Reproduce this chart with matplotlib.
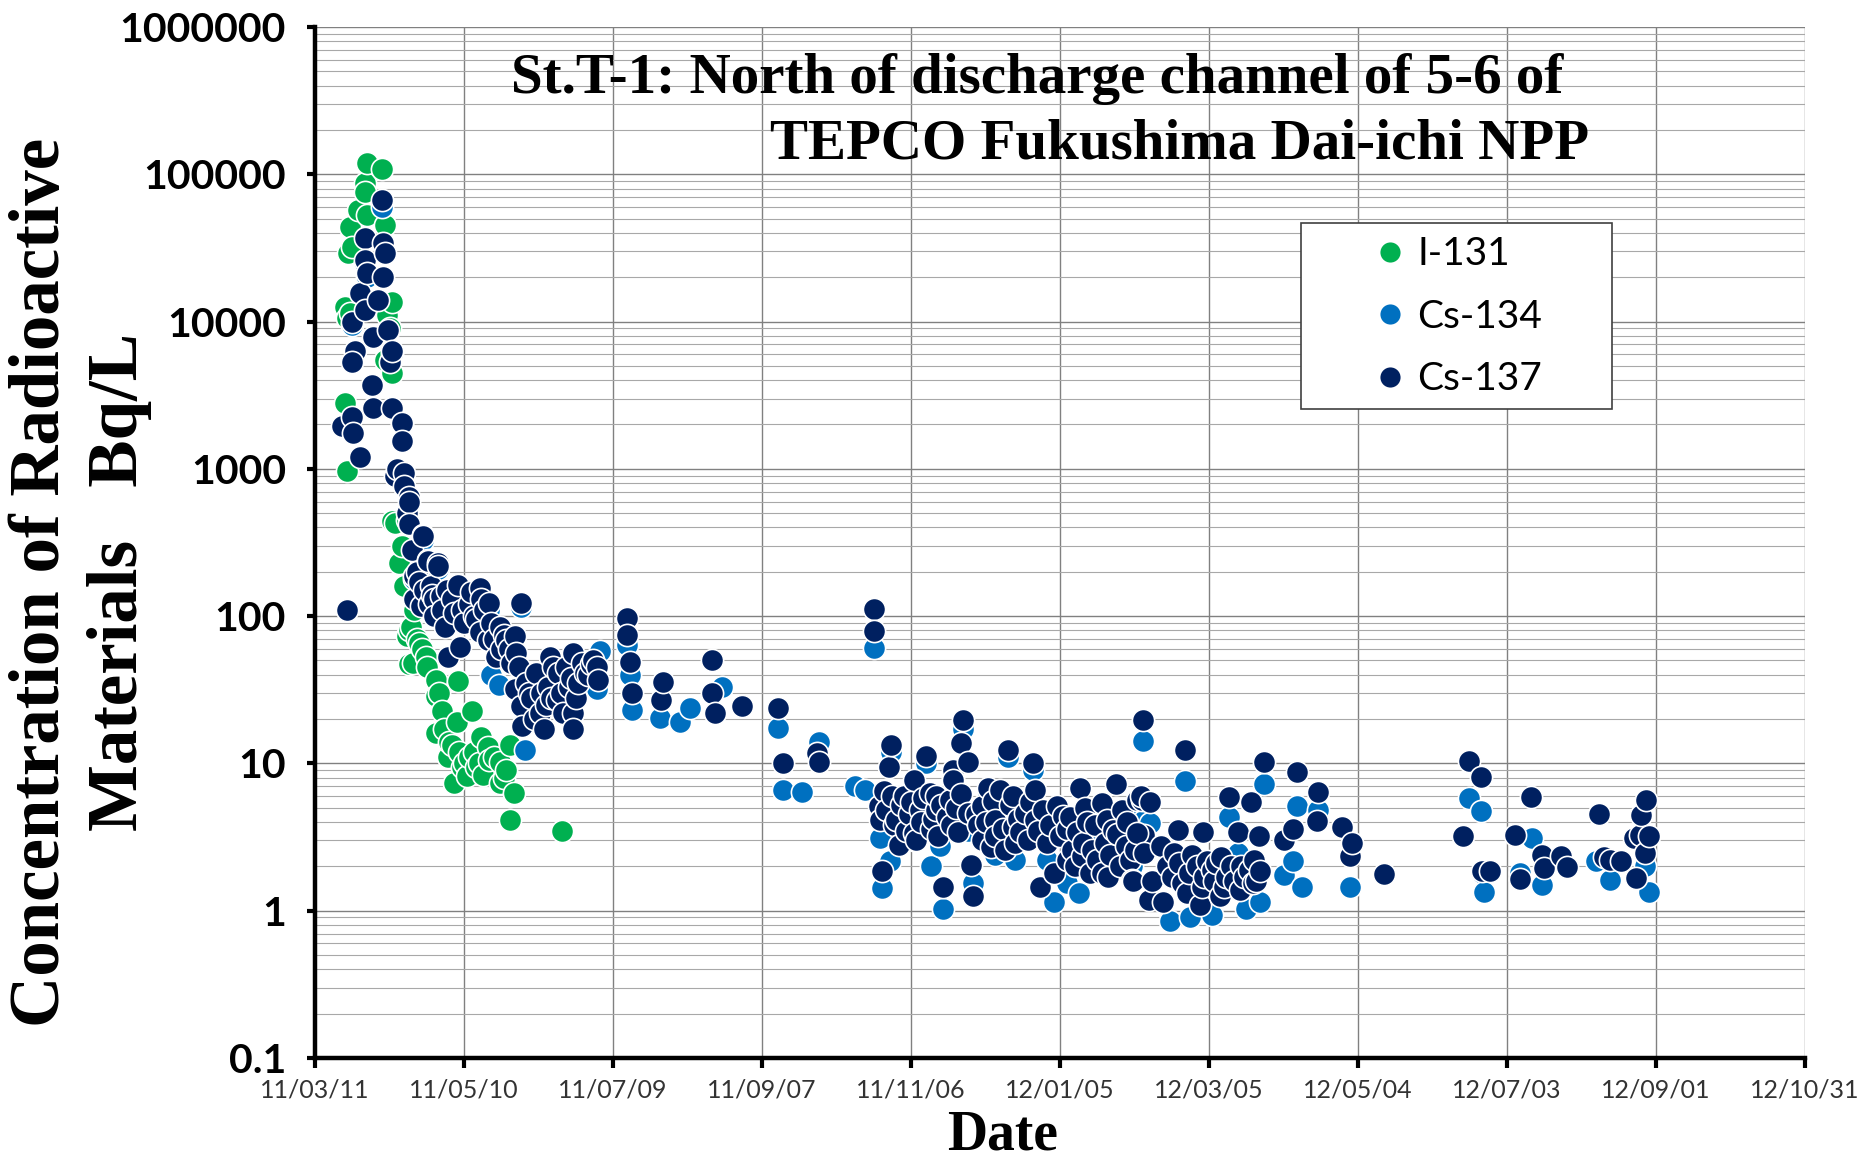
import numpy as np
import pandas as pd
import matplotlib
matplotlib.use("Agg")
import matplotlib.pyplot as plt
from matplotlib.ticker import FixedLocator, LogLocator, NullFormatter
from matplotlib.patches import Rectangle

# sampling day = days after 2011-03-11
START = pd.Timestamp("2011-03-11")
END = pd.Timestamp("2012-10-31")

i131_day = [12, 12, 12.7, 13, 13.4, 14, 14, 14.8, 17.4, 20, 20, 20.8, 21, 26.8, 28, 28, 29, 30,
            31, 31, 31, 32, 34, 35, 36, 37, 37, 38, 38, 38.6, 39.6, 40, 41, 42, 43, 44.7, 45,
            48.7, 48.7, 48.7, 50, 51.3, 52, 53.5, 54, 55, 56, 57, 57.7, 58, 59, 60, 61, 62,
            63.4, 64, 65, 66, 67, 67.7, 69.7, 70, 72, 74.5, 74.5, 76, 77, 78.5, 78.5, 80, 99.3]
i131_val = [12600, 2800, 960, 10500, 29000, 44000, 11500, 32000, 57000, 87000, 76000, 119000,
            53000, 108000, 45000, 5500, 11000, 9000, 13500, 4500, 440, 430, 230, 300, 160, 450,
            73, 81, 47, 85, 48, 110, 70, 66, 60, 53, 45, 37, 28.5, 16, 30, 22.6, 17, 11.1, 14,
            13.4, 7.4, 19.2, 36, 12, 9.5, 10, 8.2, 11, 22.6, 12, 9.5, 10, 15.2, 8.4, 13, 10.5,
            11, 10.3, 7.4, 8, 9, 13.4, 4.15, 6.3, 3.45]

cs134_day = [14.8, 20, 21, 27, 31, 35, 40, 43.6, 49.7, 57.7, 66.5, 70, 71, 74, 83, 84.6, 89, 104,
             113.4, 114.7, 125.5, 127, 127.6, 139, 147, 151, 163.8, 186.3, 188.4, 196, 203,
             217.6, 221.6, 225, 227.5, 228.5, 231.7, 232, 241, 246, 248, 251.7, 253, 257, 261,
             263, 265, 271, 274, 279, 281, 282, 289, 294.7, 297.5, 302.7, 307.7, 316, 317, 329,
             331, 333.3, 334, 336.3, 344.3, 350.4, 352.4, 361, 368, 371.8, 375, 380.6, 382, 390,
             394, 395.4, 397.4, 404, 416.6, 464.5, 469.6, 470, 470.8, 485.3, 490, 494, 516,
             521.5, 535.6, 537]
cs134_val = [9500, 25000, 20000, 60000, 6000, 2000, 180, 330, 210, 150, 140, 110, 40, 34, 115,
             12.4, 38, 52, 32, 58, 64, 40, 23, 20.4, 19.2, 23.7, 33, 17.4, 6.6, 6.4, 13.9, 7, 6.6,
             61, 3.1, 1.42, 2.16, 12, 3.0, 10, 2.0, 2.73, 1.03, 8, 17, 3.45, 1.54, 6, 2.4, 11,
             5.2, 2.2, 9, 2.2, 1.15, 1.55, 1.32, 3.2, 4.8, 2.0, 5.0, 14.3, 4.15, 3.93, 0.85, 7.55,
             0.91, 0.94, 4.36, 2.46, 1.02, 1.14, 7.2, 1.75, 2.19, 5.1, 1.46, 4.85, 1.46, 5.8, 4.77,
             1.8, 1.35, 1.8, 3.1, 1.5, 2.16, 1.62, 2.0, 1.35]

cs137_day = [13, 11, 14.8, 15.4, 16, 14.8, 14.8, 18, 18, 20, 20, 20, 21, 22.8, 23.5, 23.5, 25.3,
             27, 27.5, 28, 27.5, 29.5, 30, 31, 31, 32, 33, 35, 35, 36, 36, 37, 38, 38, 38, 39,
             40, 40, 41, 42, 42.7, 43.6, 43.6, 44, 45.4, 45.6, 46, 46.8, 47, 48, 48.1, 49.7,
             49.7, 50.8, 51, 52.2, 53, 53.5, 55, 56, 57.7, 58.4, 59, 60, 62, 63, 64, 65, 66.5,
             66.5, 67, 68, 69.7, 70, 71, 72, 73, 74.5, 75, 76, 77, 78, 79, 80.5, 80.5, 81, 82,
             83, 83, 83.5, 85, 86, 87, 88, 89, 90.5, 91, 92, 93, 94, 94.6, 95, 96, 97.3, 98, 99,
             100, 101, 102.4, 103, 104, 104, 104, 105, 106, 107.4, 108.7, 110, 111, 112, 113.4,
             114, 125.5, 125.5, 127, 127.6, 139.4, 140, 159.8, 160, 161, 172, 186.3, 188.4, 202,
             203, 225, 225,
             227, 227.5, 228.5, 229, 230, 231, 232, 232.5, 233, 234, 235, 236, 237, 238, 239,
             240, 241, 241, 242, 243.6, 244, 245, 246, 247.7, 248, 249, 250, 250, 251, 252, 253,
             254.4, 255.7, 256, 257, 257, 258, 259, 260, 260, 261, 262.8, 263, 264, 265, 266,
             267, 268.5, 268.5, 270, 271, 272, 273, 274, 274, 276, 277, 278, 279, 280, 281, 281,
             282, 283, 284, 286, 287, 288, 289, 290, 290, 291, 292, 293, 294.7, 296, 297.4,
             298.7, 300, 301, 302.7, 303, 304, 305, 306, 307, 308, 309, 309.4, 310, 311, 312,
             313, 314, 315, 317, 317, 318, 319, 319.5, 320, 321.4, 322.5, 323, 324, 325, 326.5,
             327, 328, 329, 330, 331, 333, 334, 335.7,
             329.5, 331, 332.5, 333.3, 334, 336.3, 337, 340.5, 341.6, 343, 345, 346, 347.6, 348,
             349, 350.4, 351, 352, 353, 355, 356.4, 357.3, 357.7, 358, 359, 361, 362, 363, 364.5,
             365, 366, 367, 368, 369, 370, 371.8, 372.4, 373, 374, 376, 376.7, 377.8, 378, 379,
             380, 380.6, 382, 390, 394, 395.4, 403.4, 404, 413.4, 416.6, 417.5, 430.5,
             462.2, 464.5, 469.6, 470, 473, 483.4, 485.3, 489.6, 494, 494.7, 501.7, 504, 517,
             519, 521.5, 526, 531, 532, 533.5, 534, 535.6, 535.8, 537]
cs137_val = [110, 1950, 2260, 1760, 6300, 5300, 10000, 15700, 1200, 37000, 26000, 12000, 21500,
             3700, 7800, 2600, 14000, 67000, 34000, 29000, 20000, 8800, 5300, 6300, 2600, 890,
             1000, 2050, 1540, 940, 760, 500, 640, 600, 420, 280, 186, 130, 200, 170, 117, 355,
             350, 150, 240, 235, 120, 160, 140, 130, 100, 230, 220, 136, 110, 85, 150, 53, 130,
             105, 163, 62, 110, 90, 120, 145, 100, 95, 155, 78, 130, 110, 69, 123, 90, 70, 53, 85,
             60, 75, 69, 60, 48, 73, 32, 56, 45, 123, 24.5, 18, 35, 30, 28, 20, 41, 22, 30, 17, 25,
             33, 53, 28, 45, 27, 41, 30, 22, 45, 33, 38, 56, 22, 17, 28, 35, 48, 41, 40, 47, 50,
             45, 37, 97, 75, 49, 30, 27, 35.5, 30, 50, 22, 24.6, 23.7, 10.1, 11.8, 10.3, 112, 79,
             5.1, 4.15, 1.85, 6.5, 4.8, 9.5, 13.4, 6, 3.8, 4.15, 2.8, 5.2, 6, 3.5, 4.5, 5.5, 3.37,
             7.7, 3.0, 4.85, 4.0, 5.8, 11.3, 6.3, 3.6, 4.2, 4.85, 6, 3.2, 5.2, 1.46, 4.36, 5.66,
             3.8, 9.05, 7.7, 5.0, 3.4, 13.7, 6.2, 19.6, 10.3, 4.6, 2.05, 1.25, 4.5, 3.8, 5.1, 3.03,
             4.0, 6.8, 2.7, 5.6, 4.15, 3.2, 6.6, 3.6, 2.6, 12.4, 5.2, 6, 3.7, 2.9, 4.2, 3.4, 4.6,
             3.0, 5.5, 10, 6.6, 4.15, 3.5, 1.46, 4.8, 2.9, 3.8, 1.8, 5.1, 3.2, 4.4, 2.2, 3.6, 4.36,
             2.6, 2.0, 3.4, 6.8, 2.34, 2.9, 5.0, 4.0, 1.8, 2.6, 3.8, 2.2, 1.8, 5.4, 2.9, 4.15, 1.7,
             2.4, 3.55, 7.3, 3.3, 2.0, 4.85, 2.73, 4.0, 2.2, 1.62, 2.6, 5.66, 5.66, 3.28, 1.19,
             1.58, 3.37, 6, 19.6, 2.46, 5.5, 1.58, 2.73, 1.14, 2.0, 1.7, 2.46, 3.55, 2.1, 1.54,
             12.4, 1.32, 1.8, 2.4, 2.0, 1.1, 1.46, 3.4, 1.7, 2.16, 1.9, 1.6, 2.1, 1.25, 2.3, 1.46,
             1.7, 5.96, 2.0, 1.6, 3.4, 1.39, 2.0, 1.7, 1.9, 5.46, 1.54, 2.2, 1.6, 3.2, 1.85, 10.3,
             3.03, 3.6, 8.8, 4.04, 6.4, 3.73, 2.34, 2.9, 1.77,
             3.23, 10.4, 8.1, 1.85, 1.85, 3.28, 1.64, 5.87, 2.4, 1.95, 2.34, 1.97, 4.5, 2.3, 2.22,
             2.16, 3.1, 1.66, 3.28, 4.47, 2.46, 5.66, 3.23]

series = [
    ("I-131", i131_day, i131_val, "#00B050"),
    ("Cs-134", cs134_day, cs134_val, "#0070C0"),
    ("Cs-137", cs137_day, cs137_val, "#002060"),
]

y_ticks = [0.1, 1, 10, 100, 1000, 10000, 100000, 1000000]
y_labels = ["0.1", "1", "10", "100", "1000", "10000", "100000", "1000000"]
x_ticks = pd.date_range(START, END, freq="60D")


def to_dates(days):
    return START + pd.to_timedelta(np.asarray(days, dtype=float), unit="D")


fig = plt.figure(figsize=(18.62, 11.62), dpi=100)
ax = fig.add_axes([0.1692, 0.0895, 0.8002, 0.8873])

for name, days, vals, col in series:
    ax.plot(to_dates(days), vals, ls="none", marker="o", ms=16, mfc=col,
            mec="white", mew=1.2, label=name, zorder=3)

ax.set_yscale("log")
ax.set_ylim(0.1, 1e6)
ax.set_xlim(START, END)

ax.yaxis.set_major_locator(FixedLocator(y_ticks))
ax.yaxis.set_minor_locator(LogLocator(base=10, subs=np.arange(2, 10)))
ax.yaxis.set_minor_formatter(NullFormatter())
ax.set_yticklabels(y_labels, fontsize=29.5, fontweight="bold", family="Lato")

ax.set_xticks(x_ticks)
ax.set_xticklabels([d.strftime("%y/%m/%d") for d in x_ticks], fontsize=18,
                   family="Lato", color="#333333")

ax.grid(True, which="major", color="#808080", lw=1.0)
ax.grid(True, which="minor", axis="y", color="#a8a8a8", lw=0.8)
ax.set_axisbelow(True)

for s in ["top", "right"]:
    ax.spines[s].set_visible(False)
for s in ["left", "bottom"]:
    ax.spines[s].set_linewidth(3.2)
    ax.spines[s].set_color("black")

ax.tick_params(axis="x", which="major", length=7, width=3, pad=8)
ax.tick_params(axis="y", which="major", length=6, width=3, pad=15)
ax.tick_params(axis="y", which="minor", length=0)

# titles and axis labels
serif = "Liberation Serif"
fig.text(511 / 1862, 0.9203, "St.T-1: North of discharge channel of 5-6 of",
         family=serif, fontweight="bold", fontsize=41, ha="left", va="baseline")
fig.text(1589 / 1862, 0.864, "TEPCO Fukushima Dai-ichi NPP",
         family=serif, fontweight="bold", fontsize=41, ha="right", va="baseline")
fig.text(42 / 1862, 0.4991, "Concentration of Radioactive", family=serif,
         fontweight="bold", fontsize=51, rotation=90, ha="center", va="center")
fig.text(119 / 1862, 0.4991, "Materials   Bq/L", family=serif,
         fontweight="bold", fontsize=51, rotation=90, ha="center", va="center")
fig.text(1002 / 1862, 0.011, "Date", family=serif, fontweight="bold",
         fontsize=40, ha="center", va="baseline")

# legend box
box = Rectangle((1300.7 / 1862, 1 - 409 / 1162), 311 / 1862, 186 / 1162,
                transform=fig.transFigure, facecolor="white", edgecolor="#404040",
                lw=1.2, zorder=8, clip_on=False)
ax.add_artist(box)
leg = ax.legend(loc="center left", bbox_to_anchor=(1374.5 / 1862, 1 - 316.7 / 1162),
                bbox_transform=fig.transFigure, frameon=False, borderpad=0,
                borderaxespad=0, handlelength=0.8, handletextpad=0.3,
                labelspacing=0.68, prop={"family": "Lato", "size": 28})
for h in leg.legend_handles:
    h.set_markeredgewidth(0)
    h.set_markersize(14.5)
leg.set_zorder(10)

fig.savefig("out.png", dpi=100)
